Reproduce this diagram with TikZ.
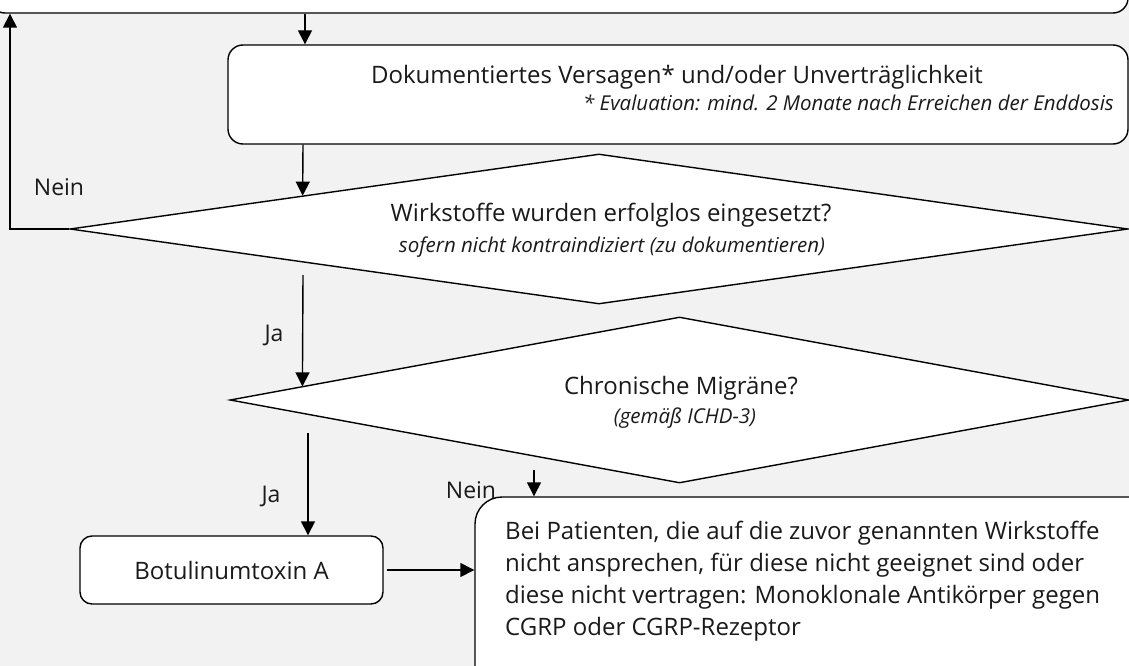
\documentclass[tikz,border=0pt]{standalone}
\usepackage{fontspec}
\setmainfont{Open Sans}
\usetikzlibrary{shapes.geometric,arrows.meta,calc}
\definecolor{bg}{HTML}{F2F2F2}
\definecolor{ink}{HTML}{1A1A1A}
\begin{document}
\begin{tikzpicture}[x=1pt,y=-1pt,
  box/.style={draw=black,line width=1.4pt,fill=white,inner sep=0pt},
  dia/.style={draw=black,line width=1.4pt,fill=white,diamond,inner sep=0pt},
  arr/.style={draw=black,line width=1.4pt,-{Triangle[length=14pt,width=14pt]}},
  main/.style={font=\fontsize{24}{32}\selectfont,text=ink,inner sep=0pt},
  note/.style={font=\fontsize{20.5}{24}\selectfont\itshape,text=ink,inner sep=0pt},
  lbl/.style={font=\fontsize{23}{26}\selectfont,text=ink,inner sep=0pt}]
\fill[bg] (0,0) rectangle (1129,666);
\useasboundingbox (0,0) rectangle (1129,666);
% boxes
\node[box,rounded corners=15pt,minimum width=1138pt,minimum height=73pt] (top) at (559,-23.5) {};
\node[box,rounded corners=15pt,minimum width=900pt,minimum height=99pt] (doc) at (678,94.5) {};
\node[dia,minimum width=1058pt,minimum height=150pt] (d1) at (599,229) {};
\node[dia,minimum width=899pt,minimum height=166pt] (d2) at (679.5,400) {};
\node[box,rounded corners=12pt,minimum width=303pt,minimum height=68pt] (botox) at (231.5,570) {};
\node[box,rounded corners=27pt,minimum width=725pt,minimum height=223pt] (big) at (837.5,608.5) {};
% texts
\node[main] (doct) at (677,77) {Dokumentiertes Versagen* und/oder Unverträglichkeit};
\node[note,anchor=east] (docn) at (1114,103) {* Evaluation: mind. 2 Monate nach Erreichen der Enddosis};
\node[main] (d1t) at (611,215) {Wirkstoffe wurden erfolglos eingesetzt?};
\node[note] (d1n) at (612,247) {sofern nicht kontraindiziert (zu dokumentieren)};
\node[main] (d2t) at (681,388) {Chronische Migräne?};
\node[note] (d2n) at (685,418) {(gemäß ICHD-3)};
\node[main] (botoxt) at (botox.center) {Botulinumtoxin A};
\node[main,anchor=west,align=left] (bigt) at (505,581) {Bei Patienten, die auf die zuvor genannten Wirkstoffe\\nicht ansprechen, für diese nicht geeignet sind oder\\diese nicht vertragen: Monoklonale Antikörper gegen\\CGRP oder CGRP-Rezeptor};
% labels
\node[lbl] (nein1) at (59,187) {Nein};
\node[lbl] (ja1) at (274,335) {Ja};
\node[lbl] (ja2) at (271,496) {Ja};
\node[lbl] (nein2) at (471,490) {Nein};
% connector coordinates
\coordinate (x1) at (305,0);
\coordinate (x2) at (303,0);
\coordinate (x3) at (308,0);
\coordinate (x0) at (10,0);
\coordinate (ja1s) at (303,275);
\coordinate (ja2s) at (308,433);
\coordinate (nein2s) at (534,470);
% connectors
\draw[arr] (x1 |- top.south) -- (x1 |- doc.north);
\draw[arr] (x2 |- doc.south) -- ($(d1.west)!0.4405!(d1.north)$);
\draw[arr] (d1.west) -| (x0 |- top.south);
\draw[arr] (ja1s) -- ($(d2.west)!0.1624!(d2.north)$);
\draw[arr] (ja2s) -- (x3 |- botox.north);
\draw[arr,shorten <=3pt] (botox.east) -- (botox.east -| big.west);
\draw[arr] (nein2s) -- (nein2s |- big.north);
\end{tikzpicture}
\end{document}
